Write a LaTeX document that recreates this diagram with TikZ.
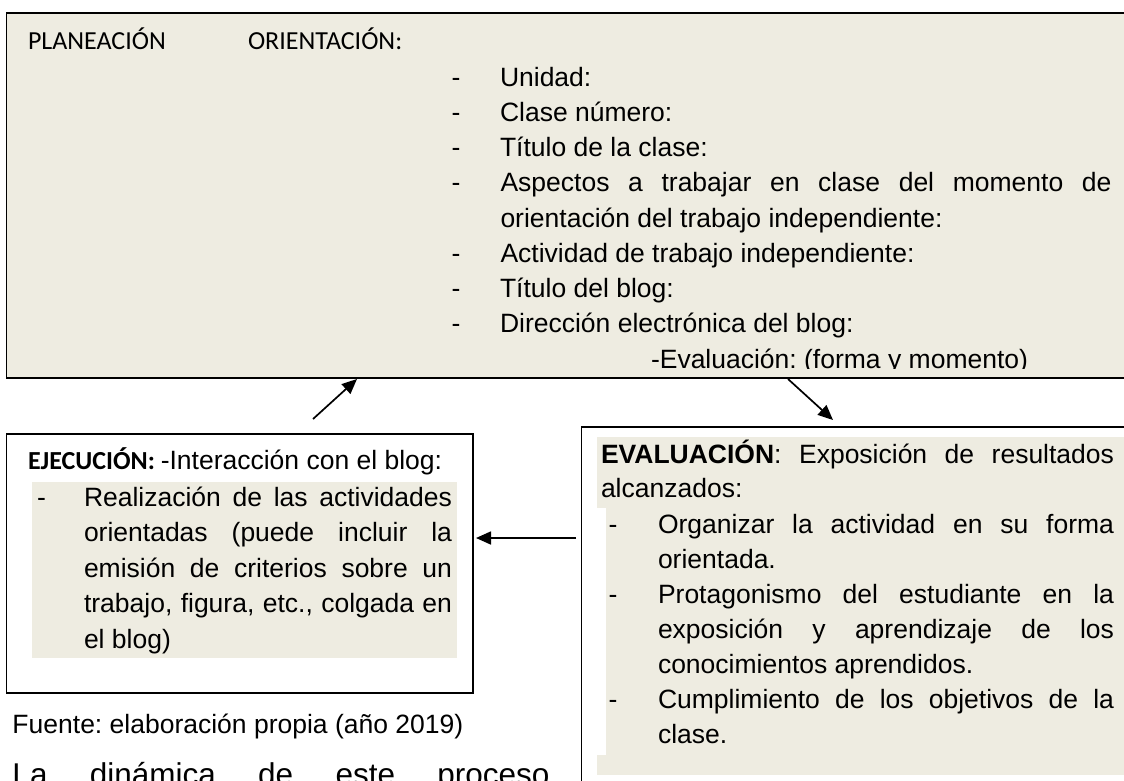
\documentclass[tikz,border=0pt]{standalone}
\usepackage{fontspec}
\setmainfont{Liberation Sans}
\newfontfamily\calfont{Carlito}
\usetikzlibrary{arrows.meta}
\definecolor{tanbg}{HTML}{EEECE1}
\tikzset{
  txt/.style={anchor=base west, inner sep=0pt, outer sep=0pt, font=\fontsize{26.5}{35}\selectfont},
  caltxt/.style={anchor=base west, inner sep=0pt, outer sep=0pt, font=\calfont\fontsize{26}{32}\selectfont},
  bigtxt/.style={anchor=base west, inner sep=0pt, outer sep=0pt, font=\fontsize{31.5}{40}\selectfont},
  panel/.style={draw=black, inner sep=0pt, outer sep=0pt, anchor=north west},
  arr/.style={line width=1.7pt, -{Triangle[length=15pt,width=13pt]}},
}
\begin{document}
\frenchspacing
\begin{tikzpicture}[x=1pt,y=-1pt]
\useasboundingbox (0,0) rectangle (1124,780);
\fill[white] (0,0) rectangle (1124,780);

% panels
\node[panel, line width=1.6pt, fill=tanbg, minimum width=1140pt, minimum height=365.3pt] (plan) at (6.5,12.7) {};
\node[panel, line width=1.2pt, fill=white, minimum width=466.3pt, minimum height=259pt] (ejec) at (6.7,434) {};
\node[panel, line width=1.5pt, fill=white, minimum width=600pt, minimum height=400pt] (eval) at (581.5,427) {};

% paragraph shading
\fill[tanbg] (32,482) rectangle (457,658);
\fill[tanbg] (597,437) rectangle (1144,508);
\fill[tanbg] (606,508) rectangle (1144,755);
\fill[tanbg] (597,755) rectangle (1144,775);

% top panel text
\begin{scope}
\clip (0,0) rectangle (1124,368);
\node[caltxt] (t0) at (28,49) {PLANEACIÓN};
\node[caltxt] (t0b) at (248,49) {ORIENTACIÓN:};
\node[txt] (d1) at (451.5,86) {-};
\node[txt] (t1) at (500,86) {Unidad:};
\node[txt] (d2) at (451.5,121.25) {-};
\node[txt] (t2) at (500,121.25) {Clase número:};
\node[txt] (d3) at (451.5,156.5) {-};
\node[txt] (t3) at (500,156.5) {Título de la clase:};
\node[txt] (d4) at (451.5,191.75) {-};
\node[txt] (t4) at (500.5,191.75) {\makebox[611pt][s]{Aspectos a trabajar en clase del momento de}};
\node[txt] (t4b) at (500.5,227) {orientación del trabajo independiente:};
\node[txt] (d5) at (451.5,262.25) {-};
\node[txt] (t5) at (500.5,262.25) {Actividad de trabajo independiente:};
\node[txt] (d6) at (451.5,297.5) {-};
\node[txt] (t6) at (500,297.5) {Título del blog:};
\node[txt] (d7) at (451.5,332.75) {-};
\node[txt] (t7) at (500,332.75) {Dirección electrónica del blog:};
\node[txt] (t8) at (651,368.5) {-Evaluación: (forma y momento)};
\end{scope}

% left panel text
\node[txt] (e0) at (28,469) {{\calfont\fontsize{26}{32}\selectfont\bfseries EJECUCIÓN: }-Interacción con el blog:};
\node[txt] (ed) at (37,506) {-};
\node[txt] (e1) at (84,506) {\makebox[368pt][s]{Realización de las actividades}};
\node[txt] (e2) at (84,541.5) {\makebox[368pt][s]{orientadas (puede incluir la}};
\node[txt] (e3) at (84,577) {\makebox[368pt][s]{emisión de criterios sobre un}};
\node[txt] (e4) at (84,612.5) {\makebox[368pt][s]{trabajo, figura, etc., colgada en}};
\node[txt] (e5) at (84,648) {el blog)};

% right panel text
\node[txt] (v0) at (601,463) {\makebox[513pt][s]{\textbf{EVALUACIÓN}: Exposición de resultados}};
\node[txt] (v0b) at (601,497) {alcanzados:};
\node[txt] (vd1) at (608.5,533) {-};
\node[txt] (v1) at (658,533) {\makebox[456pt][s]{Organizar la actividad en su forma}};
\node[txt] (v1b) at (658,568) {orientada.};
\node[txt] (vd2) at (608.5,603) {-};
\node[txt] (v2) at (658,603) {\makebox[456pt][s]{Protagonismo del estudiante en la}};
\node[txt] (v2b) at (658,638) {\makebox[456pt][s]{exposición y aprendizaje de los}};
\node[txt] (v2c) at (658,673) {conocimientos aprendidos.};
\node[txt] (vd3) at (608.5,708) {-};
\node[txt] (v3) at (658,708) {\makebox[456pt][s]{Cumplimiento de los objetivos de la}};
\node[txt] (v3b) at (658,743) {clase.};

% below
\node[txt] (src) at (12.5,733) {Fuente: elaboración propia (año 2019)};
\node[bigtxt] (para) at (12.5,785.5) {\makebox[537pt][s]{La dinámica de este proceso}};

% arrows
\coordinate (ua) at (313,419);
\coordinate (ub) at (357,379);
\coordinate (da) at (788,379);
\coordinate (db) at (833,420);
\coordinate (la) at (576,538);
\coordinate (lb) at (476,538);
\draw[arr] (ua) -- (ub);
\draw[arr] (da) -- (db);
\draw[arr] (la) -- (lb);
\end{tikzpicture}
\end{document}
